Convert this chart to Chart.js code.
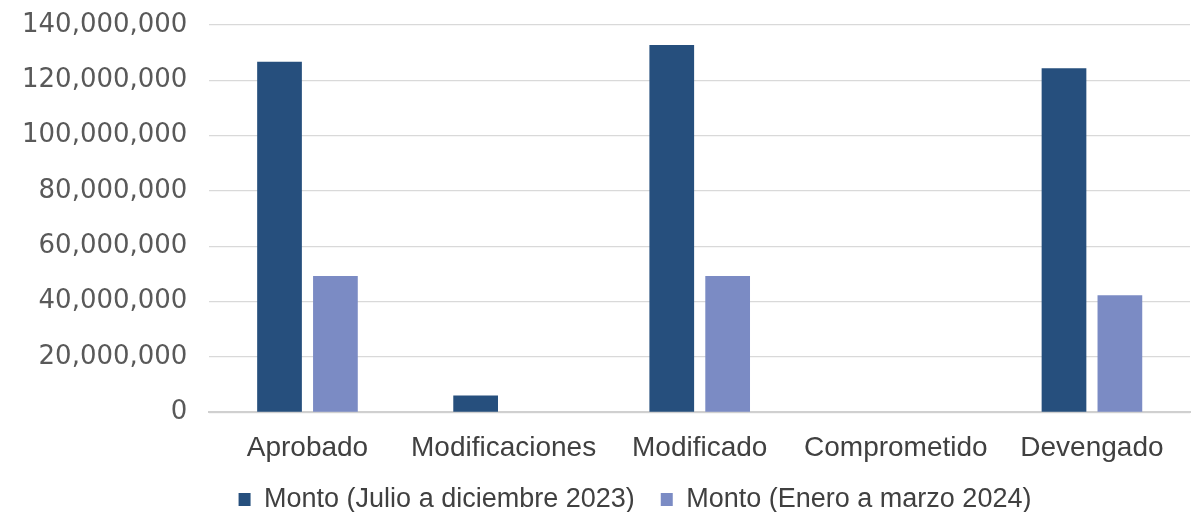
<!DOCTYPE html>
<html>
<head>
<meta charset="utf-8">
<script src="https://cdn.jsdelivr.net/npm/chart.js@4/dist/chart.umd.min.js"></script>
<style>
  html, body { margin: 0; padding: 0; background: #fff; }
  #wrap { width: 1192px; height: 512px; position: relative; }
</style>
</head>
<body>
<div id="wrap"><canvas id="barChart"></canvas></div>
<script>
// categorias y montos
const categorias = ['Aprobado', 'Modificaciones', 'Modificado', 'Comprometido', 'Devengado'];
const montoJulioDic = [126700000, 6100000, 132800000, 0, 124400000];
const montoEneroMar = [49300000, 0, 49300000, 0, 42300000];
const serieNombres = ['Monto (Julio a diciembre 2023)', 'Monto (Enero a marzo 2024)'];
const ejeY = { max: 140000000, paso: 20000000 };

// corre la leyenda a la derecha y un poco hacia arriba, como en el original
const moverLeyenda = {
    id: 'moverLeyenda',
    afterLayout: (chart) => {
        const lg = chart.legend;
        lg.left += 40;
        lg.right += 40;
        lg.top -= 16;
        lg.bottom -= 16;
    }
};

const ctx = document.getElementById('barChart').getContext('2d');

new Chart(ctx, {
    type: 'bar',
    data: {
        labels: categorias,
        datasets: [{
            label: serieNombres[0],
            data: montoJulioDic,
            backgroundColor: '#264F7D',
            borderWidth: 0
        }, {
            label: serieNombres[1],
            data: montoEneroMar,
            backgroundColor: '#7B8BC4',
            borderWidth: 0
        }]
    },
    plugins: [moverLeyenda],
    options: {
        responsive: true,
        maintainAspectRatio: false,
        animation: false,
        categoryPercentage: 0.57,
        barPercentage: 0.8,
        layout: { padding: { top: 0, right: 2, left: 0, bottom: -27 } },
        plugins: {
            legend: {
                position: 'bottom',
                labels: {
                    boxWidth: 12,
                    boxHeight: 13,
                    padding: 26,
                    color: '#404040',
                    font: { family: '"Liberation Sans", Arial, sans-serif', size: 27 }
                }
            },
            tooltip: { enabled: false }
        },
        scales: {
            y: {
                min: 0,
                max: ejeY.max,
                border: { display: false },
                grid: { color: '#d9d9d9', lineWidth: 1.2, drawTicks: false },
                ticks: {
                    stepSize: ejeY.paso,
                    padding: 22,
                    color: '#595959',
                    font: { family: '"DejaVu Sans", sans-serif', size: 26 },
                    callback: (value) => value.toLocaleString('en-US')
                },
                // el padding de los ticks empuja el area hacia abajo, se corrige aqui
                afterFit: (scale) => {
                    scale.paddingTop = 25;
                }
            },
            x: {
                border: { display: true, color: '#d0d0d0', width: 2 },
                grid: { display: false },
                ticks: {
                    padding: 11,
                    color: '#404040',
                    font: { family: '"Liberation Sans", Arial, sans-serif', size: 28 },
                    maxRotation: 0
                }
            }
        }
    }
});
</script>
</body>
</html>
